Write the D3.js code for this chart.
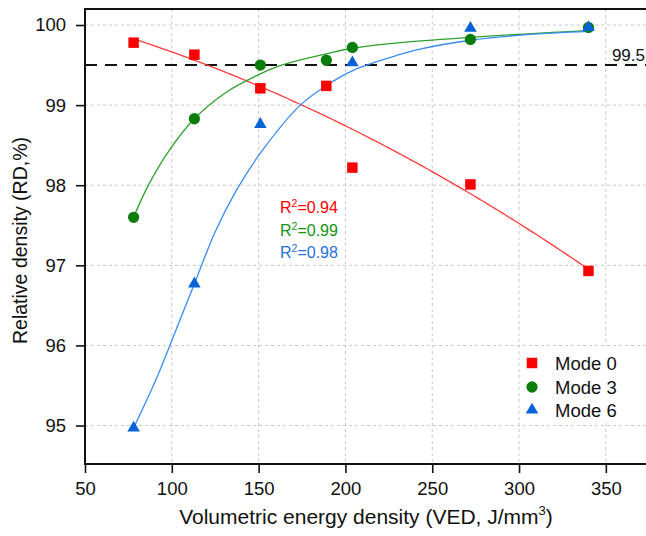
<!DOCTYPE html>
<html>
<head>
<meta charset="utf-8">
<script src="https://cdn.jsdelivr.net/npm/d3@7"></script>
<style>
  html, body { margin: 0; padding: 0; background: #fff; }
  svg { display: block; font-family: "Liberation Sans", Arial, sans-serif; }
</style>
</head>
<body>
<svg id="chart" width="646" height="536"></svg>
<script>
// ---- data ----
const seriesNames = ["Mode 0", "Mode 3", "Mode 6"];
const mode0X = [78, 113, 151, 189, 204, 272, 340];
const mode0Y = [99.78, 99.63, 99.21, 99.24, 98.22, 98.01, 96.93];
const mode3X = [78, 113, 151, 189, 204, 272, 340];
const mode3Y = [97.60, 98.83, 99.50, 99.56, 99.72, 99.82, 99.97];
const mode6X = [78, 113, 151, 204, 272, 340];
const mode6Y = [94.97, 96.77, 98.76, 99.53, 99.96, 99.97];
// fitted curves for Mode 3 and Mode 6
const fit3X = [78, 86, 99, 113, 132, 151, 162, 189, 204, 232, 272, 305, 340];
const fit3Y = [97.60, 97.98, 98.45, 98.83, 99.17, 99.39, 99.49, 99.64, 99.71, 99.78, 99.845, 99.89, 99.93];
const fit6X = [78, 91, 104, 113, 125, 137, 151, 174, 193, 206, 231, 243, 272, 305, 340];
const fit6Y = [94.97, 95.58, 96.28, 96.77, 97.42, 97.93, 98.40, 99.00, 99.30, 99.45, 99.63, 99.70, 99.81, 99.88, 99.92];
const r2Labels = ["0.94", "0.99", "0.98"];
const xTicks = [50, 100, 150, 200, 250, 300, 350];
const yTicks = [95, 96, 97, 98, 99, 100];
const refLine = 99.5;

// ---- layout ----
const plotL = 85, plotR = 647, plotT = 9, plotB = 464;
const svg = d3.select("#chart");

const x = d3.scaleLinear().domain([50, 373.7]).range([plotL, plotR]);
const y = d3.scaleLinear().domain([94.52, 100.2]).range([plotB, plotT]);

const colors = {
  marker: ["#fa0000", "#0b7d0b", "#0a62d8"],
  line: ["#ff3b3b", "#2ea02e", "#3a8cf0"],
  text: ["#fa0000", "#169416", "#1f72e0"]
};

// quadratic least-squares fit (Mode 0 trend line)
function quadFit(xs, ys) {
  const n = xs.length;
  let S = [0,0,0,0,0], T = [0,0,0];
  for (let i = 0; i < n; i++) {
    let p = 1;
    for (let k = 0; k < 5; k++) { S[k] += p; p *= xs[i]; }
    T[0] += ys[i]; T[1] += ys[i]*xs[i]; T[2] += ys[i]*xs[i]*xs[i];
  }
  const M = [[S[0],S[1],S[2],T[0]],[S[1],S[2],S[3],T[1]],[S[2],S[3],S[4],T[2]]];
  for (let i = 0; i < 3; i++) {
    for (let j = i+1; j < 3; j++) {
      const f = M[j][i]/M[i][i];
      for (let k = i; k < 4; k++) M[j][k] -= f*M[i][k];
    }
  }
  const c = [0,0,0];
  for (let i = 2; i >= 0; i--) {
    let s = M[i][3];
    for (let k = i+1; k < 3; k++) s -= M[i][k]*c[k];
    c[i] = s/M[i][i];
  }
  return v => c[0] + c[1]*v + c[2]*v*v;
}
const fit0 = quadFit(mode0X, mode0Y);
const fit0Pts = d3.range(d3.min(mode0X), d3.max(mode0X) + 0.001, 2).map(v => [v, fit0(v)]);

const series = [
  {xs: mode0X, ys: mode0Y, curve: fit0Pts, sym: d3.symbolSquare, size: 110},
  {xs: mode3X, ys: mode3Y, curve: fit3X.map((v, i) => [v, fit3Y[i]]), sym: d3.symbolCircle, size: 100},
  {xs: mode6X, ys: mode6Y, curve: fit6X.map((v, i) => [v, fit6Y[i]]), sym: d3.symbolTriangle, size: 68}
];

// ---- grid ----
const grid = svg.append("g");
grid.selectAll("line.gx").data(xTicks.filter(t => t > 50)).join("line")
  .attr("x1", d => x(d)).attr("x2", d => x(d)).attr("y1", plotT).attr("y2", plotB)
  .attr("stroke", "#c8c8c8").attr("stroke-width", 1).attr("stroke-dasharray", "3,3");
grid.selectAll("line.gy").data(yTicks).join("line")
  .attr("x1", plotL).attr("x2", plotR).attr("y1", d => y(d)).attr("y2", d => y(d))
  .attr("stroke", "#c8c8c8").attr("stroke-width", 1).attr("stroke-dasharray", "3,3");

// ---- reference line ----
svg.append("line")
  .attr("x1", plotL).attr("x2", plotR).attr("y1", y(refLine)).attr("y2", y(refLine))
  .attr("stroke", "#111").attr("stroke-width", 2).attr("stroke-dasharray", "12,8");
svg.append("text").attr("x", 645).attr("y", y(refLine) - 4)
  .attr("text-anchor", "end").attr("font-size", 17).attr("fill", "#111").text("99.5");

// ---- fit curves ----
series.forEach((s, i) => {
  svg.append("path").datum(s.curve)
    .attr("fill", "none").attr("stroke", colors.line[i]).attr("stroke-width", 1.3)
    .attr("d", d3.line().curve(d3.curveCatmullRom.alpha(0.5)).x(d => x(d[0])).y(d => y(d[1])));
});

// ---- markers ----
series.forEach((s, i) => {
  const sym = d3.symbol().type(s.sym).size(s.size);
  svg.append("g").selectAll("path").data(s.xs.map((v, j) => [v, s.ys[j]])).join("path")
    .attr("transform", d => `translate(${x(d[0])},${y(d[1])})`)
    .attr("d", sym).attr("fill", colors.marker[i]);
});

// ---- R² annotations ----
const r2y = [213, 236, 258];
r2Labels.forEach((r, i) => {
  const t = svg.append("text").attr("x", 280).attr("y", r2y[i])
    .attr("font-size", 16).attr("fill", colors.text[i]);
  t.append("tspan").text("R");
  t.append("tspan").attr("font-size", 10.5).attr("dy", -6.5).text("2");
  t.append("tspan").attr("dy", 6.5).text("=" + r);
});

// ---- legend ----
const lg = svg.append("g");
lg.append("rect").attr("x", 521).attr("y", 346).attr("width", 122).attr("height", 77).attr("fill", "#fff");
const legY = [363, 387, 410];
series.forEach((s, i) => {
  lg.append("path").attr("transform", `translate(532,${legY[i]})`)
    .attr("d", d3.symbol().type(s.sym).size(s.size)).attr("fill", colors.marker[i]);
  lg.append("text").attr("x", 555).attr("y", legY[i]).attr("dy", "0.36em")
    .attr("font-size", 18.5).attr("fill", "#111").text(seriesNames[i]);
});

// ---- axes ----
const xAxis = d3.axisBottom(x).tickValues(xTicks).tickSize(9).tickSizeOuter(0).tickPadding(9);
const yAxis = d3.axisLeft(y).tickValues(yTicks).tickFormat(d3.format("d")).tickSize(9).tickSizeOuter(0).tickPadding(10);
const gx = svg.append("g").attr("transform", `translate(0,${plotB})`).call(xAxis);
const gy = svg.append("g").attr("transform", `translate(${plotL},0)`).call(yAxis);
[gx, gy].forEach(g => {
  g.select(".domain").remove();
  g.selectAll("line").attr("stroke", "#111").attr("stroke-width", 1.6);
  g.selectAll("text").attr("font-size", 18.5).attr("fill", "#111")
    .attr("font-family", "'Liberation Sans', Arial, sans-serif");
});

// frame
svg.append("rect").attr("x", plotL).attr("y", plotT).attr("width", plotR - plotL).attr("height", plotB - plotT)
  .attr("fill", "none").attr("stroke", "#111").attr("stroke-width", 2);

// ---- titles ----
const xt = svg.append("text").attr("x", 366).attr("y", 524)
  .attr("text-anchor", "middle").attr("font-size", 21).attr("fill", "#111");
xt.append("tspan").text("Volumetric energy density (VED, J/mm");
xt.append("tspan").attr("font-size", 13).attr("dy", -9).text("3");
xt.append("tspan").attr("dy", 9).text(")");

svg.append("text").attr("transform", `translate(27,${(plotT + plotB) / 2 + 4}) rotate(-90)`)
  .attr("text-anchor", "middle").attr("font-size", 19.5).attr("fill", "#111")
  .text("Relative density (RD,%)");
</script>
</body>
</html>
